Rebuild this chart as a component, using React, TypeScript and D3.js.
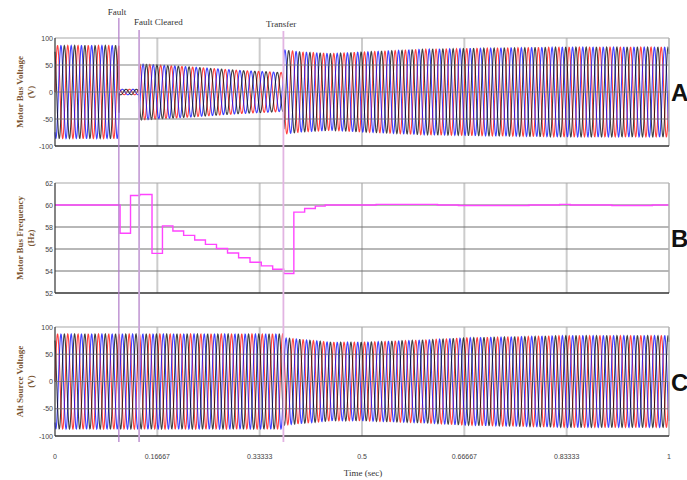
import React from 'react'
import * as d3 from 'd3'

// x axis
const xTickValues = [0, 1 / 6, 1 / 3, 0.5, 2 / 3, 5 / 6, 1]
const xTickLabels = ['0', '0.16667', '0.33333', '0.5', '0.66667', '0.83333', '1']
const voltTicks = [100, 50, 0, -50, -100]
const freqTicks = [62, 60, 58, 56, 54, 52]

// switching events
const eventTimes = [0.104, 0.137, 0.372]
const eventLabels = ['Fault', 'Fault Cleared', 'Transfer']

// motor bus frequency (Hz), step after each time
const freqTimes = [0, 0.106, 0.123, 0.138, 0.158, 0.175, 0.192, 0.2095, 0.2275, 0.245, 0.263, 0.281, 0.299, 0.3176, 0.336, 0.3545, 0.3725, 0.389, 0.4066, 0.424, 0.44, 0.523, 0.623, 0.657, 0.772, 0.822, 0.839, 0.907, 0.973, 1]
const freqValues = [60, 57.43, 60.87, 60.96, 55.6, 58.1, 57.64, 57.24, 56.82, 56.42, 56.05, 55.63, 55.2, 54.8, 54.47, 54.16, 53.77, 59.35, 59.68, 59.9, 60, 60.06, 60, 59.96, 60, 60.06, 60, 59.96, 60, 60]

// peak voltage envelopes
const busEnvTimes = [0, 0.104, 0.1045, 0.137, 0.1375, 0.2, 0.3, 0.372, 0.3725, 0.4, 0.45, 0.5, 0.6, 0.7, 0.83, 1]
const busEnvAmps = [86, 86, 5, 5, 52, 48, 40, 36, 78, 74, 71, 74, 79, 81, 83, 83]
const altEnvTimes = [0, 0.372, 0.3725, 0.45, 0.5, 0.6, 0.67, 0.83, 1]
const altEnvAmps = [87, 87, 80, 72, 72, 76, 80, 84, 84]

const phaseColors = ['#ff0000', '#0000ff', '#000000']

const X0 = 55
const X1 = 669
const panelA = [38, 146]
const panelB = [183, 293]
const panelC = [327, 436]

const x = d3.scaleLinear().domain([0, 1]).range([X0, X1])
const yA = d3.scaleLinear().domain([-100, 100]).range([panelA[1], panelA[0]])
const yB = d3.scaleLinear().domain([52, 62]).range([panelB[1], panelB[0]])
const yC = d3.scaleLinear().domain([-100, 100]).range([panelC[1], panelC[0]])

const envelope = (ts: number[], as: number[]) => d3.scaleLinear().domain(ts).range(as).clamp(true)

const freqAt = (t: number) => {
  const i = d3.bisectRight(freqTimes, t) - 1
  return freqValues[Math.max(0, Math.min(i, freqValues.length - 1))]
}

function buildPhases(ts: number[], as: number[], useBusFreq: boolean) {
  const env = envelope(ts, as)
  const dt = 0.0004
  const out: [number, number][][] = [[], [], []]
  let ph = 0
  for (let t = 0; t <= 1.00001; t += dt) {
    const a = env(t)
    for (let k = 0; k < 3; k++) {
      out[k].push([t, a * Math.sin(ph - (k * 2 * Math.PI) / 3)])
    }
    ph += 2 * Math.PI * (useBusFreq ? freqAt(t) : 60) * dt
  }
  return out
}

const busPhases = buildPhases(busEnvTimes, busEnvAmps, true)
const altPhases = buildPhases(altEnvTimes, altEnvAmps, false)

function Panel({y, top, bottom, ticks, title, unit, letter, children, traceOnTop}: any) {
  const inner = ticks.slice(1, -1)
  const cy = (top + bottom) / 2
  const grid = inner.map((v: number) => (
    <line key={'h' + v} x1={X0} x2={X1} y1={y(v)} y2={y(v)} stroke="#707070" strokeWidth={1} strokeOpacity={traceOnTop ? 1 : 0.85} />
  ))
  return (
    <g>
      {xTickValues.slice(1, -1).map((v, i) => (
        <line key={'v' + i} x1={x(v)} x2={x(v)} y1={top} y2={bottom} stroke="#cccccc" strokeWidth={2} />
      ))}
      {traceOnTop ? grid : null}
      {children}
      {traceOnTop ? null : grid}
      <line x1={X0} x2={X1} y1={top} y2={top} stroke="#a8a8a8" strokeWidth={1.2} />
      <line x1={X1} x2={X1} y1={top} y2={bottom} stroke="#b0b0b0" strokeWidth={1.5} />
      <line x1={X0} x2={X1} y1={bottom} y2={bottom} stroke="#333" strokeWidth={1.5} />
      <line x1={X0} x2={X0} y1={top} y2={bottom} stroke="#333" strokeWidth={1.2} />
      {ticks.map((v: number) => (
        <text key={'t' + v} x={X0 - 2} y={y(v) + 2.5} textAnchor="end" fontSize={7} fill="#444" fontFamily="Liberation Sans, Arial, sans-serif">
          {v}
        </text>
      ))}
      <g transform={`translate(23,${cy}) rotate(-90)`} fontFamily="Liberation Serif, serif" fontWeight="bold" fontSize={9} fill="#7a5634" textAnchor="middle">
        <text x={0} y={0}>{title}</text>
        <text x={0} y={11}>{unit}</text>
      </g>
      <text x={671} y={cy + 9} fontSize={24} fontWeight="bold" fontFamily="Liberation Sans, Arial, sans-serif" fill="#111">
        {letter}
      </text>
    </g>
  )
}

export default function App() {
  const lineA = d3.line<[number, number]>().x(d => x(d[0])).y(d => yA(d[1]))
  const lineC = d3.line<[number, number]>().x(d => x(d[0])).y(d => yC(d[1]))
  const freqPts: [number, number][] = freqTimes.map((t, i) => [t, freqValues[i]])
  const lineB = d3.line<[number, number]>().x(d => x(d[0])).y(d => yB(d[1])).curve(d3.curveStepAfter)

  const eventColors = ['#b07ac8', '#c9a4d8', '#e2b4e2']
  const eventTop = [18, 30, 31]
  const labelPos = [
    {x: 117, y: 15, anchor: 'middle'},
    {x: 134, y: 25, anchor: 'start'},
    {x: 266, y: 27, anchor: 'start'},
  ]

  return (
    <svg width={687} height={480} style={{position: 'absolute', left: 0, top: 0, background: '#fff'}}>
      <Panel y={yA} top={panelA[0]} bottom={panelA[1]} ticks={voltTicks} title="Motor Bus Voltage" unit="(V)" letter="A">
        {busPhases.map((p, k) => (
          <path key={k} d={lineA(p) || ''} fill="none" stroke={phaseColors[k]} strokeWidth={1.1} strokeOpacity={0.75} />
        ))}
      </Panel>
      <Panel y={yB} top={panelB[0]} bottom={panelB[1]} ticks={freqTicks} title="Motor Bus Frequency" unit="(Hz)" letter="B" traceOnTop>
        <path d={lineB(freqPts) || ''} fill="none" stroke="#ff44ff" strokeWidth={1.4} />
      </Panel>
      <Panel y={yC} top={panelC[0]} bottom={panelC[1]} ticks={voltTicks} title="Alt Source Voltage" unit="(V)" letter="C">
        {altPhases.map((p, k) => (
          <path key={k} d={lineC(p) || ''} fill="none" stroke={phaseColors[k]} strokeWidth={1.1} strokeOpacity={0.75} />
        ))}
      </Panel>

      {eventTimes.map((t, i) => (
        <g key={i}>
          <line x1={x(t)} x2={x(t)} y1={eventTop[i]} y2={442} stroke={eventColors[i]} strokeWidth={i === 0 ? 1.2 : 1.8} />
          <text x={labelPos[i].x} y={labelPos[i].y} textAnchor={labelPos[i].anchor as any} fontSize={9} fontFamily="Liberation Serif, serif" fill="#333">
            {eventLabels[i]}
          </text>
        </g>
      ))}

      {xTickValues.map((v, i) => (
        <text key={i} x={x(v)} y={459} textAnchor="middle" fontSize={7} fill="#444" fontFamily="Liberation Sans, Arial, sans-serif">
          {xTickLabels[i]}
        </text>
      ))}
      <text x={363} y={476} textAnchor="middle" fontSize={9} fontFamily="Liberation Serif, serif" fill="#333">
        Time (sec)
      </text>
    </svg>
  )
}
